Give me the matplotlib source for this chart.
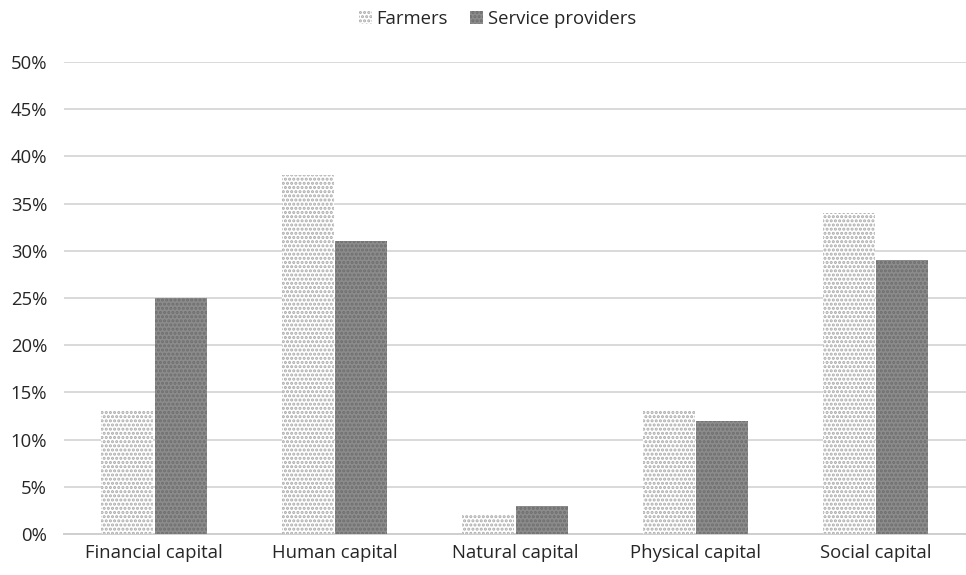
import matplotlib.pyplot as plt
import numpy as np
from matplotlib.ticker import FuncFormatter

categories = ["Financial capital", "Human capital", "Natural capital",
              "Physical capital", "Social capital"]
farmers = [13, 38, 2, 13, 34]
service_providers = [25, 31, 3, 12, 29]
yticks = [0, 5, 10, 15, 20, 25, 30, 35, 40, 45, 50]

plt.rcParams["font.family"] = ["Open Sans", "DejaVu Sans"]
plt.rcParams["hatch.linewidth"] = 1.5

fig = plt.figure(figsize=(9.66, 5.75), dpi=100)
ax = fig.add_axes([0.066, 0.0713, 0.934, 0.8209])

x = np.arange(len(categories))
width = 0.288
ax.bar(x - 0.147, farmers, width, facecolor="white", edgecolor="#ababab",
       hatch="....", linewidth=0, label="Farmers", zorder=3)
ax.bar(x + 0.148, service_providers, width, facecolor="#8c8c8c",
       edgecolor="#6e6e6e", hatch="....", linewidth=0,
       label="Service providers", zorder=3)

ax.set_xlim(-0.5, 4.5)
ax.set_ylim(0, 50)
ax.set_yticks(yticks)
ax.yaxis.set_major_formatter(FuncFormatter(lambda v, _: f"{v:.0f}%"))
ax.set_xticks(x)
ax.set_xticklabels(categories)
ax.tick_params(length=0, labelsize=13.3, colors="#262626", pad=7)
ax.tick_params(axis="y", pad=12)

ax.grid(axis="y", color="#d9d9d9", linewidth=1.4, zorder=0)
for side in ["top", "right", "left"]:
    ax.spines[side].set_visible(False)
ax.spines["bottom"].set_color("#cfcfcf")
ax.spines["bottom"].set_linewidth(1.4)

fig.legend(loc="upper center", bbox_to_anchor=(0.515, 1.012), ncol=2,
           frameon=False, fontsize=13.3, handlelength=0.7, handleheight=0.7,
           handletextpad=0.25, columnspacing=1.2, labelcolor="#262626")

fig.savefig("out.png", dpi=100)
